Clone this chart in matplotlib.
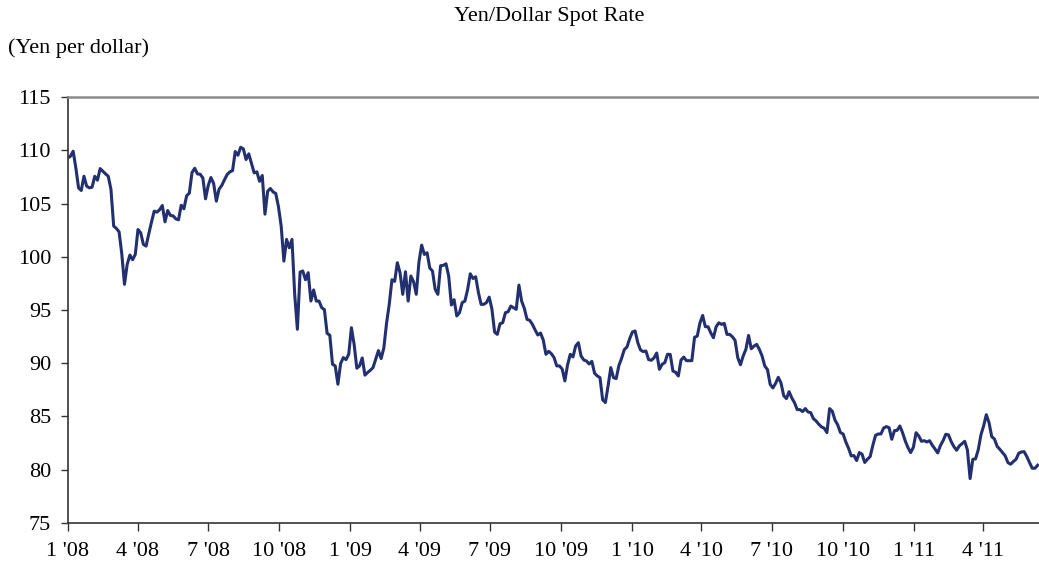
import matplotlib
matplotlib.use('Agg')
import matplotlib.pyplot as plt
import pandas as pd

# yen per dollar at half-week steps from 1 Jan 2008
rate_1 = [109.28, 109.44, 109.91, 108.34, 106.47, 106.22, 107.56, 106.63, 106.47, 106.53,
          107.56, 107.19, 108.28, 108.03, 107.78, 107.56, 106.31, 102.88, 102.66, 102.34,
          100.28, 97.41, 99.28, 100.16, 99.72, 100.22, 102.56, 102.25, 101.16, 101.0,
          102.16, 103.25, 104.28, 104.19, 104.41, 104.81, 103.28, 104.34, 103.88, 103.84,
          103.56, 103.47, 104.84, 104.5, 105.72, 105.97, 107.91, 108.31, 107.78, 107.75,
          107.41, 105.44, 106.69, 107.44, 106.88, 105.22, 106.34, 106.69, 107.22, 107.72,
          107.97, 108.09, 109.88, 109.53, 110.28, 110.13, 109.13, 109.66, 108.78, 107.88,
          107.97, 107.09, 107.63, 104.0, 106.16]
rate_2 = [106.41, 106.09, 105.94, 104.69, 102.88, 99.59, 101.63, 100.84, 101.63, 96.47,
          93.19, 98.56, 98.66, 97.84, 98.5, 95.84, 96.88, 95.84, 95.84, 95.22,
          95.03, 92.81, 92.63, 89.91, 89.75, 88.03, 89.97, 90.53, 90.34, 90.84,
          93.34, 91.78, 89.53, 89.75, 90.5, 88.88, 89.13, 89.34, 89.59, 90.38,
          91.19, 90.44, 91.44, 93.75, 95.53, 97.84, 97.69, 99.44, 98.5, 96.47,
          98.59, 95.84, 98.19, 97.66, 96.47, 99.53, 101.09, 100.22, 100.38, 98.94,
          98.66, 96.94, 96.47, 99.16, 99.19, 99.34, 98.19, 95.47, 95.97, 94.44,
          94.75, 95.69, 95.84, 96.91]
rate_3 = [98.4, 97.96, 98.12, 96.65, 95.53, 95.53, 95.71, 96.21, 95.09, 92.93,
          92.71, 93.71, 93.81, 94.75, 94.84, 95.37, 95.21, 95.06, 97.34, 95.84,
          95.15, 94.12, 94.03, 93.65, 93.12, 92.65, 92.84, 92.18, 90.84, 91.12,
          90.9, 90.53, 89.75, 89.75, 89.46, 88.34, 89.84, 90.84, 90.59, 91.62,
          91.93, 90.68, 90.31, 90.21, 89.93, 90.18, 89.06, 88.81, 88.65, 86.56,
          86.31, 87.87, 89.59, 88.65, 88.56, 89.78, 90.46, 91.28, 91.53, 92.31,
          92.93, 93.03, 91.93, 91.25, 91.09, 91.15, 90.34, 90.28, 90.5, 90.96,
          89.43, 89.9, 90.06, 90.84]
rate_4 = [90.83, 89.27, 89.15, 88.8, 90.3, 90.58, 90.24, 90.24, 90.24, 92.43,
          92.55, 93.77, 94.49, 93.43, 93.43, 92.86, 92.4, 93.43, 93.8, 93.65,
          93.74, 92.71, 92.71, 92.49, 92.15, 90.52, 89.86, 90.68, 91.3, 92.61,
          91.36, 91.61, 91.77, 91.3, 90.68, 89.74, 89.4, 88.02, 87.68, 88.11,
          88.68, 88.15, 86.96, 86.68, 87.33, 86.74, 86.3, 85.65, 85.65, 85.46,
          85.74, 85.43, 85.36, 84.8, 84.58, 84.27, 84.02, 83.9, 83.49, 85.74,
          85.49, 84.65, 84.21, 83.49, 83.36, 82.61, 82.02, 81.3, 81.33, 80.86,
          81.61, 81.46, 80.68, 80.99]
rate_5 = [81.23, 82.3, 83.23, 83.36, 83.36, 83.92, 84.05, 83.95, 82.86, 83.67,
          83.7, 84.11, 83.48, 82.7, 82.08, 81.61, 82.11, 83.48, 83.17, 82.67,
          82.73, 82.61, 82.73, 82.3, 81.95, 81.58, 82.27, 82.73, 83.33, 83.27,
          82.64, 82.17, 81.83, 82.23, 82.45, 82.67, 81.86, 79.17, 80.98, 81.02,
          81.86, 83.27, 84.11, 85.17, 84.42, 83.11, 82.89, 82.2, 81.92, 81.61,
          81.3, 80.67, 80.52, 80.77, 80.98, 81.55, 81.67, 81.7, 81.23, 80.67,
          80.14, 80.14, 80.42]

tick_dates = ['2008-01-01', '2008-04-01', '2008-07-01', '2008-10-01',
              '2009-01-01', '2009-04-01', '2009-07-01', '2009-10-01',
              '2010-01-01', '2010-04-01', '2010-07-01', '2010-10-01',
              '2011-01-01', '2011-04-01']
tick_labels = ["1 '08", "4 '08", "7 '08", "10 '08", "1 '09", "4 '09", "7 '09", "10 '09",
               "1 '10", "4 '10", "7 '10", "10 '10", "1 '11", "4 '11"]

rate = rate_1 + rate_2 + rate_3 + rate_4 + rate_5
dates = pd.date_range('2008-01-01', periods=len(rate), freq='84h')

plt.rcParams['font.family'] = ['Liberation Serif', 'DejaVu Serif']

fig = plt.figure(figsize=(10.39, 5.66), dpi=100)
ax = fig.add_axes([0.0652, 0.076, 0.9348, 0.7526])

ax.plot(dates, rate, color='#22306f', lw=2.2)

ax.set_ylim(75, 115)
ax.set_yticks(range(75, 116, 5))
ax.set_xlim(pd.Timestamp('2008-01-01'), pd.Timestamp('2011-06-12 06:00'))
ax.set_xticks([pd.Timestamp(d) for d in tick_dates])
ax.set_xticklabels(tick_labels)

ax.tick_params(axis='both', labelsize=16, color='#333333', width=1, direction='out')
ax.tick_params(axis='y', length=5, pad=7)
ax.tick_params(axis='x', length=6, pad=8)

ax.spines['right'].set_visible(False)
ax.spines['top'].set_color('#8c8c8c')
ax.spines['top'].set_linewidth(1.8)
ax.spines['left'].set_color('#333333')
ax.spines['bottom'].set_color('#333333')
ax.spines['left'].set_linewidth(1.2)
ax.spines['bottom'].set_linewidth(1.2)

fig.text(0.529, 0.97, 'Yen/Dollar Spot Rate', ha='center', va='center', fontsize=16)
fig.text(0.008, 0.915, '(Yen per dollar)', ha='left', va='center', fontsize=16)

fig.savefig('out.png', dpi=100)
plt.close(fig)
